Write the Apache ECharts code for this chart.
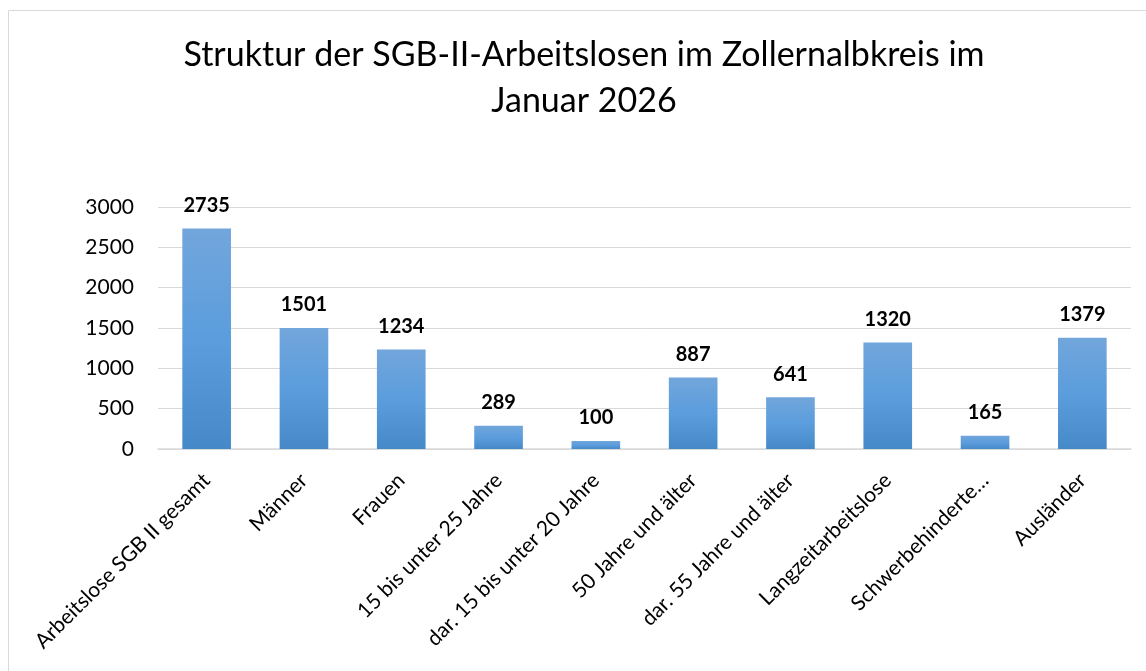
<!DOCTYPE html>
<html>
<head>
<meta charset="utf-8">
<script src="https://cdn.jsdelivr.net/npm/echarts@6/dist/echarts.min.js"></script>
<style>
  html, body { margin: 0; padding: 0; background: #ffffff; }
  #chart { width: 1146px; height: 671px; }
</style>
</head>
<body>
<div id="chart"></div>
<script>
const titleText = "Struktur der SGB-II-Arbeitslosen im Zollernalbkreis im\nJanuar 2026";
const categories = [
  "Arbeitslose SGB II gesamt",
  "Männer",
  "Frauen",
  "15 bis unter 25 Jahre",
  "dar. 15 bis unter 20 Jahre",
  "50 Jahre und älter",
  "dar. 55 Jahre und älter",
  "Langzeitarbeitslose",
  "Schwerbehinderte…",
  "Ausländer"
];
const values = [2735, 1501, 1234, 289, 100, 887, 641, 1320, 165, 1379];
const yMin = 0, yMax = 3000, yInterval = 500;

const font = 'Lato, "Noto Sans", sans-serif';
const chart = echarts.init(document.getElementById('chart'), null, { renderer: 'canvas' });
chart.setOption({
  backgroundColor: '#ffffff',
  animation: false,
  graphic: [{
    type: 'rect',
    shape: { x: 8.5, y: 10.5, width: 1200, height: 700 },
    style: { fill: 'none', stroke: '#d9d9d9', lineWidth: 1 },
    silent: true,
    z: -1
  }, {
    type: 'text',
    x: 584,
    y: 32,
    silent: true,
    style: {
      text: titleText,
      align: 'center',
      verticalAlign: 'top',
      font: 'normal 34px ' + font,
      lineHeight: 46,
      fill: '#000'
    }
  }],
  grid: { left: 158, right: 15, top: 207, bottom: 222, containLabel: false },
  xAxis: {
    type: 'category',
    data: categories,
    axisLine: { show: true, lineStyle: { color: '#d9d9d9', width: 1.5 } },
    axisTick: { show: false },
    axisLabel: {
      interval: 0,
      rotate: 45,
      margin: 28,
      fontFamily: font,
      fontSize: 21,
      color: '#000'
    }
  },
  yAxis: {
    type: 'value',
    min: yMin, max: yMax, interval: yInterval,
    axisLine: { show: false },
    axisTick: { show: false },
    splitLine: { lineStyle: { color: '#d9d9d9', width: 1 } },
    axisLabel: { fontFamily: font, fontSize: 21, color: '#000', margin: 24, formatter: v => String(v) }
  },
  series: [{
    type: 'bar',
    data: values,
    barWidth: '50%',
    itemStyle: {
      color: new echarts.graphic.LinearGradient(0, 0, 0, 1, [
        { offset: 0, color: '#72a6db' },
        { offset: 0.5, color: '#5b9ddd' },
        { offset: 1, color: '#4689c9' }
      ])
    },
    label: {
      show: true,
      position: 'top',
      distance: 13,
      fontFamily: font,
      fontSize: 20,
      fontWeight: 'bold',
      color: '#000'
    }
  }]
});
</script>
</body>
</html>
